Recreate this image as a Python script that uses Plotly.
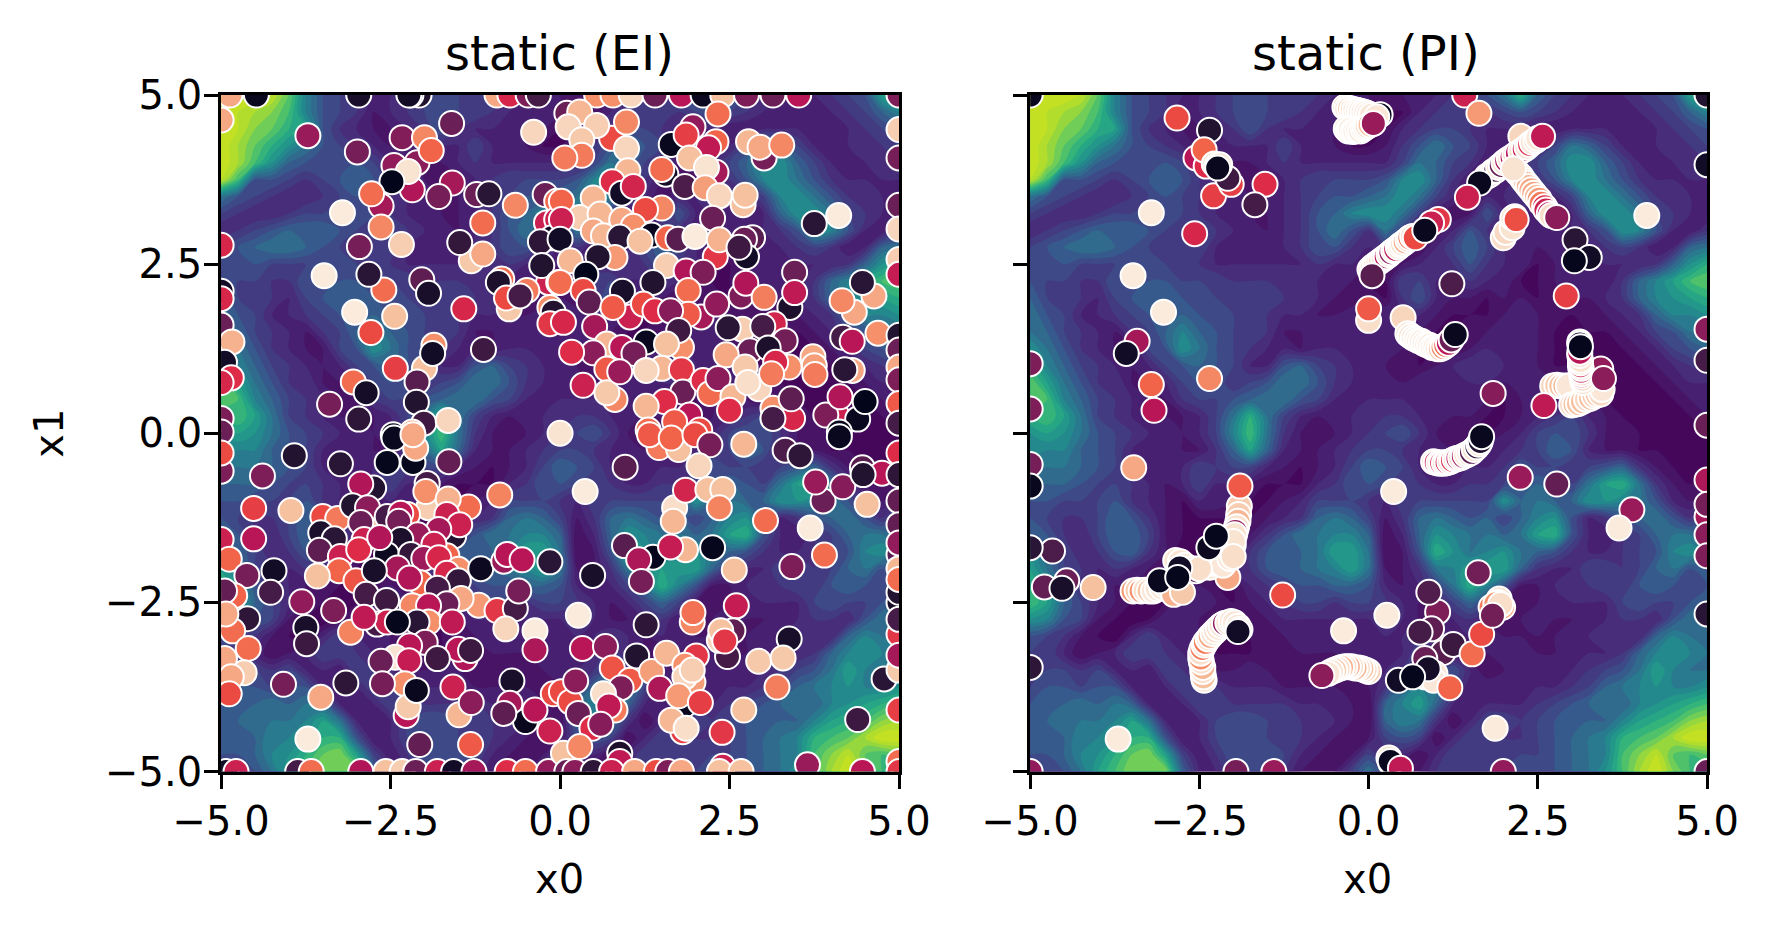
import plotly.graph_objects as go

# grid of the background surface at 0.25 steps (level 0-20)
grid_x = [-5 + 0.25 * i for i in range(41)]
grid_y = [5 - 0.25 * i for i in range(41)]

surface = [
    [18,18,18,17,14,9,6,5,4,3,3,4,5,6,5,5,5,4,3,3,2, 2,2,3,3,4,5,6,8,12,7,5,4,3,3,3,4,5,6,11,14],
    [18,17,16,15,13,9,6,5,4,2,3,4,5,6,5,5,4,3,3,3,2, 1,1,3,4,5,5,4,5,6,5,4,3,3,3,3,3,4,5,7,9],
    [18,17,15,14,12,11,6,4,3,2,2,3,4,6,4,3,3,3,2,2,1, 1,3,4,5,5,4,3,3,3,2,2,3,3,3,3,3,3,4,5,6],
    [18,16,14,12,10,8,6,5,4,3,2,3,3,3,3,5,3,3,2,1,1, 2,4,6,8,6,5,3,2,3,3,5,8,7,5,3,3,3,4,4,5],
    [18,16,13,10,7,6,6,6,6,5,3,3,2,2,3,4,3,3,3,3,3, 3,5,8,7,5,4,2,2,3,5,7,10,10,7,5,3,3,3,4,4],
    [17,13,6,6,5,4,5,6,7,6,4,3,2,2,2,3,4,5,5,5,5, 6,9,10,7,4,2,2,2,4,4,6,9,10,8,6,4,3,3,3,3],
    [8,6,5,4,3,3,4,5,6,5,4,3,3,2,2,3,4,5,6,6,7, 8,10,8,5,3,1,3,3,4,3,3,5,9,10,8,6,4,4,3,3],
    [5,4,3,3,4,5,5,6,6,5,4,3,3,2,2,3,4,6,7,9,10, 10,8,5,2,1,2,6,3,3,3,3,3,7,10,10,8,5,4,3,2],
    [3,4,5,6,7,7,7,6,5,5,5,4,3,3,2,3,4,6,8,6,4, 8,5,2,1,3,6,4,2,3,3,3,3,4,6,10,9,6,3,2,4],
    [5,6,7,8,8,7,6,5,5,5,5,3,3,3,3,3,4,6,6,4,3, 4,2,1,3,5,7,5,3,3,2,3,3,3,4,5,4,2,3,7,8],
    [6,6,6,5,5,5,6,6,5,5,4,3,3,3,3,3,3,4,3,3,2, 2,2,3,4,4,6,4,3,3,1,2,3,3,3,3,3,4,7,10,12],
    [6,5,5,4,4,6,6,6,6,5,5,5,4,4,4,4,4,3,3,2,1, 1,5,5,3,3,4,3,3,1,1,2,3,3,2,4,7,9,11,13,14],
    [7,5,5,4,3,5,6,7,7,6,6,5,5,5,5,4,4,3,2,1,2, 1,4,6,3,2,2,1,2,2,1,2,2,2,3,4,7,9,10,11,12],
    [8,6,5,3,3,4,5,6,7,7,6,6,5,5,4,3,3,2,2,3,3, 3,3,3,2,1,1,1,2,3,2,2,1,2,2,3,4,7,9,9,10],
    [8,7,5,4,3,2,4,5,7,9,7,6,5,5,4,2,2,3,3,3,3, 3,3,2,1,1,2,2,3,3,2,1,1,1,1,2,3,5,6,8,8],
    [10,8,6,4,3,2,2,5,6,10,8,6,5,4,3,3,2,3,3,3,3, 3,2,1,1,1,2,3,3,3,2,1,1,1,1,1,2,3,5,6,7],
    [12,9,7,5,4,3,2,3,5,6,7,6,5,3,3,6,7,5,4,3,3, 2,2,1,2,3,4,4,3,3,2,1,1,1,1,1,1,2,3,4,5],
    [14,11,8,6,4,4,2,2,3,5,6,6,4,5,6,8,8,6,4,3,3, 3,2,3,3,3,3,3,2,3,3,2,2,1,1,1,1,1,2,3,3],
    [14,13,9,7,5,4,3,2,2,4,5,5,6,7,8,8,6,5,3,3,3, 3,3,3,3,3,3,2,1,2,3,2,1,2,1,1,1,1,1,2,3],
    [12,13,11,8,5,4,3,2,2,2,3,5,8,12,8,5,3,2,3,3,4, 4,4,3,3,2,2,1,1,2,3,4,5,3,2,1,1,1,1,1,2],
    [10,11,10,8,6,5,4,3,3,2,3,5,9,13,8,4,2,1,2,3,4, 5,6,4,2,2,1,1,2,3,5,6,6,4,2,2,1,1,1,1,1],
    [10,9,9,7,6,5,3,3,3,2,2,4,7,11,7,3,2,2,3,4,5, 5,4,3,3,2,2,3,3,4,5,7,6,3,2,2,1,1,1,1,1],
    [8,8,8,7,6,5,3,2,3,3,5,4,5,5,3,2,1,2,3,5,7, 6,5,3,3,3,3,3,4,6,5,5,4,5,6,7,4,2,1,1,1],
    [7,7,7,6,5,5,4,3,2,3,5,3,3,2,1,1,1,3,4,6,6, 5,5,4,3,3,4,4,5,6,7,6,5,8,11,12,8,4,2,1,2],
    [6,6,5,5,5,6,4,3,2,1,3,3,2,1,1,2,3,5,5,5,4, 3,5,5,5,5,5,5,10,7,8,7,7,10,10,9,8,6,3,2,4],
    [6,5,4,4,5,7,6,4,2,1,1,1,1,1,2,3,4,7,8,7,5, 2,4,7,8,7,6,7,5,7,9,10,6,3,4,6,7,8,6,4,6],
    [7,6,4,3,5,7,7,5,2,1,1,1,1,2,4,6,8,8,9,9,7, 1,3,7,10,9,8,8,7,8,11,12,6,3,2,4,5,7,8,8,7],
    [10,7,5,3,4,6,7,4,2,0,0,1,2,4,6,7,7,8,11,11,8, 1,2,6,12,10,8,9,10,8,7,6,4,3,3,4,5,6,9,10,8],
    [11,8,5,4,3,4,3,2,1,0,1,1,3,4,6,7,7,8,9,11,8, 2,2,4,8,9,11,11,11,7,4,3,3,5,5,4,5,7,8,6,7],
    [12,10,6,4,3,2,2,1,0,1,2,1,1,3,4,5,6,6,7,7,6, 3,2,3,5,8,12,9,6,2,2,3,4,4,5,4,6,7,6,5,6],
    [13,11,7,5,3,2,1,1,1,3,3,2,1,2,3,4,5,5,4,5,5, 4,3,2,3,5,7,5,2,1,2,3,3,3,3,5,6,5,5,6,7],
    [10,9,6,5,2,1,0,1,3,3,2,2,2,1,2,3,3,3,3,3,3, 4,3,2,2,3,4,2,2,2,3,2,2,3,3,4,4,3,6,8,8],
    [6,5,4,2,1,0,3,5,3,3,2,1,1,1,2,2,3,3,3,3,3, 3,3,4,3,2,3,3,2,2,2,2,3,3,4,3,3,7,9,8,8],
    [5,5,3,1,2,3,5,5,4,3,2,1,1,1,2,2,2,2,2,3,3, 3,3,5,3,2,1,2,3,3,2,2,3,3,3,4,7,9,10,9,8],
    [5,5,5,4,5,3,3,2,5,4,3,2,2,3,2,2,2,2,2,2,3, 3,4,6,5,6,3,1,2,3,3,3,3,4,5,6,8,11,9,8,8],
    [5,6,6,5,6,6,3,2,3,5,4,4,3,3,3,2,2,2,2,2,2, 4,7,9,8,5,2,3,3,3,3,3,4,5,7,8,9,10,9,9,10],
    [6,7,7,8,7,8,7,3,2,3,5,5,4,4,4,4,3,3,3,2,1, 7,9,11,7,3,2,3,3,3,4,5,6,7,8,7,9,10,11,12,13],
    [7,7,8,8,8,9,11,8,3,2,3,5,6,6,5,5,4,4,3,2,1, 7,9,8,4,1,3,5,5,4,5,6,7,7,7,9,11,12,13,15,16],
    [7,7,7,9,9,10,12,12,6,2,3,5,6,6,5,5,4,3,2,1,2, 5,6,5,1,3,5,5,4,4,5,6,7,8,9,12,13,14,16,18,18],
    [6,6,7,9,10,12,14,15,11,5,2,4,6,6,6,5,3,2,1,2,5, 3,3,1,3,5,5,5,5,5,5,6,7,8,9,13,15,17,14,13,14],
    [6,6,6,8,11,13,15,15,15,7,3,3,5,6,6,4,2,1,2,5,8, 5,1,2,4,5,5,5,5,6,6,6,7,8,10,13,16,18,15,13,12],
]

# viridis stops as the levels above were read
surface_scale = [
    [0.0, '#440154'], [0.1, '#481a6c'], [0.2, '#46337e'], [0.3, '#3b528b'], [0.4, '#2c728e'],
    [0.5, '#21908c'], [0.6, '#27ad81'], [0.7, '#5cc863'], [0.8, '#aadc32'], [0.9, '#cde11d'],
    [1.0, '#fde725'],
]

# seaborn rocket, sampled
rocket = [
    [0.0, '#03051a'], [0.1, '#221331'], [0.2, '#451c47'], [0.3, '#6a1f56'],
    [0.4, '#921c5b'], [0.5, '#b91657'], [0.6, '#dd2b48'], [0.65, '#ea4a42'],
    [0.7, '#f1644a'], [0.8, '#f5906a'], [0.9, '#f6c19f'], [1.0, '#faebdd'],
]

# (x0, x1, colour value) for static (EI), by quadrant of the panel
ei_top_left = [
    (-4.87,5,.85),(-5,4.63,.85),(-4.48,5,.02),(-3.72,4.40,.42),(-2.99,4.16,.33),(-2.97,5,.07),
    (-1.60,4.58,.3),(-2.33,4.37,.36),(-2.0,4.37,.78),(-2.45,3.96,.4),(-2.11,4.0,.38),(-2.18,3.6,.48),
    (-1.90,4.18,.7),(-2.24,3.87,.98),(-2.64,3.36,.45),(-2.48,3.72,0),(-2.78,3.54,.72),(-1.59,3.70,.45),
    (-1.79,3.50,.33),(-1.23,3.53,.3),(-1.05,3.54,.12),(-.66,3.37,.78),(-1.14,3.11,.72),(-3.21,3.26,1),
    (-2.64,3.05,.78),(-2.96,2.76,.33),(-2.34,2.79,.93),(-1.31,2.55,.92),(-1.48,2.82,.15),(-1.14,2.65,.85),
    (-3.48,2.33,1),(-2.6,2.12,.72),(-2.82,2.35,.12),(-2.04,2.27,.27),(-1.94,2.07,.07),(-1.42,1.84,.58),
    (-3.03,1.79,1),(-2.44,1.73,.9),(-2.79,1.49,.65),(-1.13,1.24,.18),(-1.86,1.30,.8),(-2.0,.96,.9),
    (-1.88,1.18,.05),(-2.43,.96,.63),(-3.05,.76,.72),(-2.86,.60,.06),(-2.11,.76,.25),(-3.4,.43,.33),
    (-2.12,.46,.1),(-2.97,.21,.13),(-2.01,.15,.18),(-1.65,.19,.95),(-2.46,-.02,.02),(-2.18,.02,.85),
    (-5,2.78,.58),(-5,2.1,.05),(-5,1.99,.58),(-5,1.6,.3),(-4.84,1.35,.87),(-4.95,1.05,.05),(-4.85,.82,.6),
    (-5,.75,.58),(-5,.22,.35),(-5,.02,.3),(-2.08,5,.1),(-2.2,5,.1),(-2.23,5,.05),(-.93,5,.85),(-.74,5,.58),
    (-.47,5,.35),(-.32,5,.2),(-.39,4.45,.95),(-.22,3.53,.3),(-.05,3.43,.72),(-.2,3.11,.55),(-.05,3.16,.55),
    (-.12,2.89,.05),(-.29,2.83,.13),(-.17,2.23,.55),(-.27,2.48,.1),(-.02,2.23,.72),(-.86,2.28,.72),
    (-.91,2.23,.08),(-.49,2.11,.75),(-.75,1.84,.92),(-.79,2.0,.65),(-.59,2.03,.2),(-.15,1.86,.8),
    (-.1,1.79,.1),(-.15,1.62,.62),
]
ei_top_right = [
    (.54,5,.8),(.78,5,.8),(1.05,5,.95),(1.4,5,.3),(1.79,5,.5),(2.11,5,.03),(2.4,5,.9),(2.75,5,.35),
    (3.14,5,.3),(3.52,5,.5),(5,5,.35),(.1,4.73,.3),(.29,4.75,.88),(.12,4.53,.95),(.76,4.36,.65),
    (.54,4.55,.93),(.98,4.6,.78),(2.33,4.72,.72),(1.96,4.53,.4),(1.64,4.27,.02),(1.86,4.41,.63),
    (2.3,4.31,.7),(2.19,4.22,.52),(.32,4.34,.92),(.98,4.21,.95),(.32,4.11,.75),(.07,4.07,.75),
    (1.91,4.07,.9),(3.01,4.07,.33),(2.78,4.31,.88),(2.95,4.23,.85),(3.27,4.26,.78),(5,4.49,.93),
    (5,4.07,.33),(2.3,3.86,.45),(2.16,3.93,.98),(1.56,3.83,.06),(1.5,3.9,.72),(1.0,3.88,.88),
    (.77,3.72,.6),(.91,3.55,.05),(1.08,3.65,.57),(1.84,3.65,.22),(2.14,3.63,.83),(2.7,3.38,.9),
    (2.35,3.51,.95),(2.73,3.52,.9),(.49,3.48,.88),(.02,3.43,.7),(1.5,3.33,.78),(1.26,3.31,.65),
    (.29,3.19,.93),(.02,3.16,.55),(.59,3.24,.88),(.91,3.16,.85),(1.08,3.06,.8),(2.25,3.18,.3),
    (3.75,3.1,.12),(4.11,3.22,1),(5,3.37,.3),(5,3.02,.95),(.49,2.99,.85),(.64,2.92,.88),(1.35,2.93,.02),
    (.88,2.9,.12),(1.18,2.84,.9),(1.59,2.89,.7),(1.74,2.87,.25),(1.99,2.91,1),(2.29,2.61,.62),
    (2.35,2.86,.87),(2.84,2.89,.25),(2.72,2.87,.3),(2.75,2.61,.05),(2.64,2.75,.18),(0,2.87,.05),
    (.81,2.6,.82),(.15,2.55,.88),(.56,2.61,.1),(1.57,2.48,.93),(1.86,2.4,.48),(2.11,2.38,.35),
    (.38,2.35,0),(0,2.23,.72),(5,2.57,.93),(3.46,2.38,.3),(5,2.35,.53),(4.63,2.03,.85),(4.46,2.23,.12),
    (4.34,1.79,.85),(4.16,1.96,.78),(3.39,1.86,.08),(3.46,2.08,.52),(2.67,2.03,.35),(2.74,2.22,.48),
    (3.01,2.01,.76),(1.89,2.11,.72),(1.37,2.23,.1),(.92,2.1,.07),(.34,2.11,.65),(.43,1.94,.27),
    (1.03,1.72,.55),(.78,1.86,.68),(1.23,1.91,.65),(1.4,1.81,.6),(2.08,1.72,.45),(1.89,1.76,.68),
    (1.63,1.81,.37),(2.31,1.91,.4),(3.16,1.62,.57),(2.69,1.54,.93),(2.48,1.56,.12),(2.99,1.58,.2),
    (.05,1.64,.58),(.51,1.58,.45),(1.27,1.35,.02),(1.79,1.27,.8),(1.75,1.52,.18),(.69,1.32,.88),
    (1.57,1.32,.9),(.91,1.27,.5),(1.09,1.18,.33),(.49,1.19,.38),(.17,1.2,.6),(3.32,1.37,.32),
    (2.8,1.22,.3),(2.45,1.16,.85),(3.07,1.26,.08),(3.38,.98,.8),(3.18,1.05,.58),(3.73,1.13,.85),
    (3.75,1.0,.83),(3.76,.87,.75),(4.17,1.42,.2),(4.31,1.36,.5),(4.69,1.48,.8),(5,1.45,.1),(5,1.23,.3),
    (5,.98,.85),(5,.79,.35),(.69,.95,.68),(.34,.71,.55),(.81,.5,.78),(.69,.6,.92),(.88,.91,.42),
    (1.5,.96,.88),(1.27,.93,.95),(1.79,.94,.62),(1.81,.61,.3),(2.11,.78,.6),(2.21,.59,.72),(2.33,.81,.38),
    (2.55,.54,.88),(2.93,.66,.95),(2.73,.98,.92),(3.12,.88,.75),(2.77,.75,.97),(1.54,.47,.6),(1.27,.4,.88),
    (2.5,.34,.6),(3.14,.37,.8),(3.43,.22,.58),(3.14,.22,.2),(3.41,.51,.27),(4.31,.93,.85),(4.2,.94,.12),
    (4.07,.29,.55),(3.92,.27,.35),(4.13,.54,.48),(4.39,.21,.02),(4.5,.47,0),(4.12,.02,.02),(5,.44,.68),
    (5,.15,.2),(1.91,.27,.5),(1.69,.17,.68),(1.3,.05,.72),(2.06,.05,.65),
]
ei_bottom_left = [
    (-3.92,-.33,.1),(-3.24,-.45,.12),(-2.55,-.43,.01),(-2.17,-.43,.01),(-1.64,-.42,.28),(-2.13,-.22,.85),
    (-2.45,-.07,.02),(-2.17,-.02,.85),(-4.39,-.63,.35),(-5,-.56,.35),(-5,-.29,.65),(-2.75,-.81,.1),
    (-2.94,-.75,.48),(-4.52,-1.11,.63),(-3.97,-1.14,.9),(-.89,-.91,.77),(-1.96,-.74,.2),(-1.94,-1.1,.93),
    (-1.35,-1.09,.72),(-1.98,-.86,.8),(-1.65,-.97,.87),(-3.5,-1.23,.65),(-3.28,-1.26,.75),(-3.06,-1.07,.1),
    (-2.84,-1.27,.88),(-2.84,-1.1,.38),(-3.53,-1.47,.08),(-3.33,-1.56,.12),(-4.52,-1.56,.5),(-5,-1.57,.55),
    (-3.55,-1.73,.27),(-3.24,-1.82,.55),(-4.88,-1.86,.7),(-4.22,-2.03,.05),(-4.62,-2.1,.33),(-4.27,-2.35,.2),
    (-3.26,-2.03,.7),(-3.58,-2.11,.9),(-4.8,-2.4,.7),(-4.95,-2.33,.28),(-3.81,-2.49,.4),(-3.34,-2.62,.35),
    (-3.75,-2.87,.07),(-3.74,-3.11,.17),(-3.09,-2.94,.77),(-4.61,-2.74,.13),(-4.83,-2.92,.72),(-4.6,-3.18,.72),
    (-4.93,-2.67,.85),(-4.66,-3.54,.93),(-4.95,-3.33,.85),(-4.85,-3.6,.85),(-4.88,-3.85,.65),(-4.08,-3.71,.33),
    (-3.53,-3.9,.85),(-3.16,-3.69,.13),(-3.72,-4.52,1),
    (-2.94,-1.32,.3),(-2.55,-1.23,.2),(-2.25,-1.2,.65),(-2.35,-1.18,.5),(-2.38,-1.3,.33),(-1.57,-1.52,.1),
    (-1.67,-1.2,.55),(-1.48,-1.35,.55),(-1.79,-1.42,.45),(-2.1,-1.5,.42),(-1.67,-1.81,.7),(-1.86,-1.64,.55),
    (-2.89,-1.57,.55),(-2.97,-1.72,.6),(-2.35,-1.57,.08),(-2.56,-1.79,.03),(-2.66,-1.54,.48),(-2.2,-1.79,.15),
    (-2.01,-1.85,.43),(-1.79,-1.84,.58),(-3.01,-2.18,.67),(-2.4,-1.99,.45),(-2.74,-2.03,.07),(-2.06,-2.21,.7),
    (-2.22,-2.14,.48),(-1.5,-2.01,.8),(-1.67,-2.07,.58),(-1.5,-2.18,.15),(-1.81,-2.29,.2),(-1.2,-2.54,.82),
    (-1.46,-2.44,.85),(-.93,-2.62,.62),(-.66,-2.59,.2),(-1.67,-2.52,.3),(-1.17,-2.0,.03),(-.83,-1.89,.42),
    (-.78,-1.79,.5),(-.56,-1.87,.5),(-.15,-1.9,.12),(-.61,-2.33,.33),(-2.18,-2.55,.78),(-2.86,-2.38,.2),
    (-2.56,-2.47,.18),(-1.94,-2.55,.5),(-2.7,-2.82,.2),(-2.55,-2.79,.55),(-2.89,-2.72,.52),(-1.94,-2.79,.8),
    (-2.11,-2.79,.12),(-2.4,-2.79,.01),(-1.59,-2.79,.52),(-1.99,-3.09,.35),(-2.22,-3.14,.5),(-2.43,-3.31,.98),
    (-2.23,-3.36,.53),(-2.64,-3.37,.3),(-1.4,-3.33,.48),(-1.5,-3.19,.5),(-1.81,-3.33,.18),(-1.32,-3.21,.17),
    (-.37,-2.92,1),(-.8,-2.89,.95),(-.37,-3.2,.47),(-2.29,-3.7,.8),(-2.62,-3.7,.33),(-2.27,-4.17,.5),
    (-2.24,-4.04,.92),(-2.12,-3.8,.02),(-1.49,-4.16,.88),(-1.58,-3.75,.55),(-1.31,-3.98,.38),(-.71,-3.66,.07),
    (-.74,-3.99,.45),(-.51,-4.26,.02),(-.83,-4.14,.27),(-.37,-4.09,.5),(-.1,-3.85,.65),(-.15,-4.4,.55),
    (-2.07,-4.6,.28),(-1.32,-4.6,.68),(-4.93,-5,.05),(-4.78,-5,.55),(-3.87,-5,.2),(-3.67,-5,.72),(-2.94,-5,.48),
    (-2.57,-5,.9),(-2.33,-5,.93),(-2.13,-5,.3),(-1.81,-5,.55),(-1.57,-5,.05),(-1.27,-5,.45),(-.78,-5,.6),
    (-.51,-5,.72),(-.17,-5,.4),
]
ei_bottom_right = [
    (0,0,.98),(1.46,-.21,.75),(1.32,-.02,.68),(1.75,-.24,.9),(1.64,-.07,.7),(1.99,-.02,.65),(2.21,-.17,.33),
    (2.71,-.16,.88),(2.05,-.48,.95),(.96,-.5,.25),(3.32,-.25,.22),(3.54,-.33,.13),(4.12,-.05,.02),
    (3.88,-1.0,.3),(3.77,-.72,.42),(4.17,-.79,.37),(4.46,-.51,.25),(4.75,-.59,.5),(4.47,-.61,.1),(5,-.29,.6),
    (5,-.61,.13),(4.53,-1.05,.9),(5,-1.0,.28),(5,-1.35,.28),(5,-1.79,.25),(5,-1.62,.4),(.37,-.86,1),
    (1.69,-1.1,.97),(1.67,-1.3,.88),(1.85,-.84,.57),(2.18,-.83,.9),(2.4,-.83,.9),(2.35,-1.1,.77),(3.03,-1.29,.72),
    (3.69,-1.4,1),(.95,-1.66,.25),(1.37,-1.83,.01),(1.85,-1.72,.88),(1.16,-1.87,.47),(1.63,-1.68,.53),
    (2.25,-1.69,.01),(1.2,-2.19,.33),(2.57,-2.02,.9),(3.42,-1.97,.35),(3.9,-1.8,.72),(.48,-2.1,.07),
    (.27,-2.69,1),(1.27,-2.83,.13),(1.95,-2.79,.78),(1.96,-2.65,.73),(2.6,-2.55,.53),(2.55,-2.92,.27),
    (2.47,-3.3,.2),(2.35,-3.06,.95),(2.37,-2.92,.9),(2.43,-3.07,.62),(3.38,-3.04,.07),(2.93,-3.37,.92),
    (3.29,-3.32,.92),(.33,-3.18,.5),(.67,-3.15,.38),(.77,-3.47,.67),(1.03,-3.65,.68),(1.13,-3.29,.1),
    (1.35,-3.52,.83),(1.57,-3.25,.88),(2.01,-3.29,.62),(1.84,-3.43,.8),(1.96,-3.68,.83),(1.84,-3.6,.95),
    (1.95,-3.5,.93),(3.2,-3.75,.76),(.02,-3.82,.65),(.15,-3.97,.65),(.23,-3.66,.38),(.9,-3.76,.35),(1.47,-3.77,.47),
    (.64,-3.85,.97),(1.83,-4.02,.02),(1.75,-3.88,.82),(2.07,-3.98,.63),(.81,-4.09,.75),(.72,-4.03,.52),
    (.27,-4.14,.3),(.47,-4.36,.6),(.6,-4.3,.37),(2.71,-4.09,.9),(1.81,-4.41,.63),(1.64,-4.24,.88),(1.86,-4.36,.97),
    (2.39,-4.42,.62),(4.39,-4.23,.17),(.05,-4.73,.9),(.29,-4.63,.78),(.88,-4.73,.08),(5,-4.09,.63),(4.78,-3.63,.12),
    (5,-3.5,.92),(5,-2.5,.07),(5,-2.35,.1),(5,-2.97,.62),(5,-3.28,.45),(5,-2.0,.88),(5,-2.16,.72),(5,-2.75,.2),
    (.1,-5,.3),(.22,-5,.38),(.49,-5,.13),(.88,-4.85,.52),(.76,-5,.55),(1.1,-5,.85),(1.42,-5,.65),(1.59,-5,.35),
    (1.79,-5,.85),(2.4,-4.92,.55),(2.35,-5,.9),(2.67,-5,.9),(3.65,-4.9,.42),(4.46,-5,.5),(5,-4.85,.72),(5,-5,.62),
]

# (x0, x1, colour value) for static (PI): single picks first, then the dense runs of points
pi_single = [
    (-2.83,4.66,.65),(-2.35,4.48,.1),(-2.55,4.07,.5),(-2.4,3.95,.6),(-2.43,4.19,.7),(-2.29,3.51,.63),
    (-2.03,3.68,.63),(-2.08,3.77,.18),(-1.53,3.68,.6),(-1.68,3.38,.2),(-2.28,3.98,.99),(-2.24,3.95,.98),
    (-2.2,3.97,.99),(-2.23,3.92,.02),(-3.21,3.26,1),(-2.57,2.95,.58),(-3.48,2.33,1),(-3.03,1.79,1),
    (-3.42,1.36,.45),(-3.58,1.18,.05),(-3.21,.72,.7),(-3.17,.34,.5),(-2.35,.81,.78),(-5,1.03,.35),(-5,.36,.35),
    (-5,5,.02),(1.42,5,.55),(1.63,4.73,.82),(5,3.97,.05),(5,5,.1),(5,1.54,.38),(5,1.08,.2),(5,.12,.3),
    (3.05,2.86,.12),(3.26,2.6,.05),(3.04,2.55,.01),(1.23,2.21,.22),(2.92,2.03,.63),(4.11,3.22,1),
    (0,1.67,.97),(0,1.84,.68),(.51,1.71,.95),(1.84,.59,.37),(2.24,-.65,.42),(2.78,-.75,.28),(.37,-.86,1),
    (3.89,-1.13,.42),(3.7,-1.4,1),(1.62,-2.06,.32),(5,-.69,.47),(5,-1.23,.45),(5,-1.05,.33),(5,-1.5,.38),
    (5,-1.81,.35),(5,-2.67,.12),(5,-5,.3),(1.99,-5,.4),(1.02,-2.64,.35),(.89,-2.35,.23),(.27,-2.69,1),
    (.93,-2.89,.27),(.76,-2.94,.2),(1.1,-3.24,.25),(1.25,-3.12,.17),(.83,-3.33,.3),(.98,-3.55,.99),(.83,-3.6,.99),
    (.96,-3.65,.99),(.88,-3.48,.06),(.44,-3.65,.05),(.65,-3.6,.01),(1.53,-3.26,.72),(1.67,-2.97,.65),(1.2,-3.76,.7),
    (1.93,-2.45,.98),(1.91,-2.5,.97),(1.98,-2.57,.85),(1.81,-2.57,.75),(1.88,-2.52,.8),(1.95,-2.53,.97),
    (1.83,-2.69,.32),(1.87,-4.36,1),(.3,-4.8,.99),(.33,-4.88,.99),(.32,-4.85,.02),(.47,-4.95,.52),
    (-3.47,-.51,.85),(-5,-.46,.33),(-5,-.78,.02),(-1.27,-2.39,.65),(-.37,-2.92,1),(-4.67,-1.74,.22),
    (-5,-1.69,.12),(-4.79,-2.27,.28),(-4.46,-2.18,.3),(-4.53,-2.29,.07),(-4.07,-2.28,.9),(-5,-3.46,.13),
    (-3.7,-4.52,1),(-5,-5,.4),(-1.96,-5,.33),(-1.4,-5,.42),
]
pi_top_stack = [
    (-.35,4.82,.93),(-.32,4.8,.95),(-.28,4.8,.9),(-.24,4.79,.97),(-.2,4.78,.98),(-.16,4.77,.99),(-.12,4.76,.99),
    (-.08,4.75,.99),(-.04,4.74,.99),(0,4.72,.99),(.04,4.7,.99),(-.33,4.5,1),(-.3,4.47,1),(-.27,4.49,1),
    (-.23,4.46,1),(-.2,4.47,.99),(-.16,4.48,1),(-.12,4.47,.99),(-.08,4.5,.99),(-.05,4.52,.98),(-.02,4.54,.96),
    (.02,4.56,.9),(.17,4.71,.02),(.12,4.68,.99),(.07,4.58,.42),
]
pi_long_low = [
    (.02,2.42,.98),(.06,2.46,.98),(.1,2.49,.97),(.14,2.52,.95),(.18,2.55,.9),(.22,2.58,.98),(.26,2.61,.5),
    (.3,2.64,.98),(.33,2.67,.4),(.37,2.7,.97),(.4,2.72,.5),(.44,2.75,.98),(.47,2.78,.95),(.5,2.8,.98),
    (.54,2.83,.85),(.58,2.86,.97),(.61,2.89,.75),(.65,2.91,.97),(.05,2.33,.25),(1.03,3.16,.62),(.93,3.11,.55),
    (.69,2.89,.65),(.83,3.0,.02),
]
pi_long_high = [
    (1.75,3.8,.97),(1.8,3.83,.3),(1.84,3.87,.97),(1.88,3.89,.2),(1.92,3.93,.98),(1.96,3.96,.3),(2.0,4.0,.97),
    (2.04,4.03,.45),(2.08,4.06,.97),(2.12,4.08,.5),(2.16,4.11,.95),(2.2,4.14,.5),(2.25,4.39,.95),(2.25,4.17,.97),
    (2.3,4.2,.55),(2.34,4.23,.98),(2.38,4.27,.6),(2.42,4.3,.98),(2.47,4.33,.97),(2.5,4.36,.99),(2.57,4.39,.52),
    (1.64,3.7,.02),(1.46,3.49,.55),
]
pi_branch = [
    (2.2,3.85,.97),(2.25,3.8,.93),(2.28,3.75,.92),(2.32,3.7,.9),(2.36,3.65,.88),(2.4,3.6,.85),(2.44,3.55,.85),
    (2.48,3.5,.88),(2.52,3.46,.82),(2.55,3.4,.75),(2.6,3.35,.6),(2.62,3.3,.55),(2.67,3.25,.5),(2.7,3.22,.97),
    (2.78,3.19,.38),(2.14,3.91,.98),(1.99,2.89,.97),(2.03,2.97,.96),(2.12,3.04,.98),(2.16,3.2,.99),(2.13,3.18,.99),
    (2.18,3.16,.66),
]
pi_band = [
    (.58,1.47,.99),(.62,1.44,.99),(.66,1.41,.99),(.7,1.39,1),(.74,1.37,1),(.78,1.36,1),(.82,1.33,1),(.86,1.31,1),
    (.9,1.3,1),(.94,1.27,1),(.98,1.27,1),(1.02,1.25,.98),(1.06,1.25,.9),(1.1,1.27,.8),(1.14,1.3,.7),(1.18,1.33,.5),
    (1.22,1.38,.3),(1.28,1.46,.02),
]
pi_right_cluster = [
    (2.72,.7,.95),(2.78,.71,.93),(2.84,.7,.9),(2.9,.7,.88),(2.95,.7,.99),(3.0,.42,.95),(3.05,.43,.9),(3.1,.44,.92),
    (3.16,.47,.9),(3.22,.5,.95),(3.28,.52,.9),(3.33,.55,.93),(3.38,.57,.9),(3.43,.58,.96),(3.45,.65,.99),
    (3.43,.95,.4),(3.17,.75,.99),(3.16,.8,.97),(3.15,.85,.55),(3.15,.88,.97),(3.14,.92,.5),(3.14,.96,.98),
    (3.13,1.0,.55),(3.13,1.04,.98),(3.13,1.08,.98),(3.12,1.15,.99),(3.12,1.2,.5),(3.12,1.35,.99),(3.12,1.32,.1),
    (3.13,1.28,.01),(3.47,.81,.38),(2.59,.41,.52),
]
pi_arc = [
    (.96,-.42,.98),(1.0,-.43,.55),(1.04,-.44,.97),(1.08,-.44,.55),(1.12,-.44,.98),(1.16,-.43,.55),(1.2,-.42,.97),
    (1.24,-.4,.6),(1.28,-.38,.98),(1.32,-.37,.5),(1.36,-.36,.97),(1.4,-.34,.45),(1.44,-.32,.97),(1.48,-.3,.98),
    (1.52,-.28,.25),(1.56,-.24,.98),(1.6,-.2,.15),(1.63,-.16,.98),(1.65,-.12,.1),(1.67,-.05,.02),
]
pi_lower_band = [
    (0,-3.52,.93),(-.05,-3.5,.97),(-.1,-3.48,.9),(-.15,-3.47,.97),(-.2,-3.47,.88),(-.25,-3.45,.97),(-.3,-3.45,.85),
    (-.35,-3.45,.97),(-.4,-3.46,.87),(-.45,-3.48,.97),(-.5,-3.5,.93),(-.55,-3.52,.98),(-.6,-3.55,.99),(-.69,-3.58,.38),
]
pi_hook = [
    (-2.43,-3.65,.99),(-2.44,-3.6,.9),(-2.45,-3.52,.97),(-2.45,-3.46,.88),(-2.47,-3.38,.97),(-2.48,-3.32,.8),
    (-2.48,-3.25,.97),(-2.46,-3.18,.76),(-2.43,-3.13,.97),(-2.41,-3.09,.75),(-2.37,-3.04,.98),(-2.34,-3.0,.85),
    (-2.3,-2.96,.98),(-2.26,-2.92,.97),(-2.22,-2.88,.98),(-2.18,-2.84,.99),(-2.13,-2.81,.4),(-2.08,-2.8,.98),
    (-2.03,-2.78,.99),(-1.98,-2.8,.99),(-1.93,-2.85,.99),(-1.9,-2.9,.99),(-1.93,-2.93,.05),
]
pi_cross = [
    (-2.08,-2.13,.85),(-3.48,-2.33,.82),(-3.42,-2.32,.93),(-3.36,-2.33,.8),(-3.3,-2.32,.97),(-3.24,-2.33,.9),
    (-3.18,-2.33,.99),(-3.12,-2.3,.98),(-3.06,-2.28,.99),(-3.0,-2.25,.99),(-2.88,-2.38,.87),(-2.75,-2.35,.92),
    (-3.09,-2.18,.02),(-2.35,-1.98,.99),(-2.3,-1.92,.98),(-2.25,-1.85,.99),(-2.2,-1.92,.99),(-2.15,-1.95,.99),
    (-2.05,-1.85,.99),(-2.03,-1.75,.98),(-2.0,-1.65,.99),(-2.85,-1.88,.99),(-2.78,-1.9,.98),(-2.72,-1.95,.99),
    (-2.65,-2.02,.5),(-2.6,-2.0,.97),(-2.55,-2.03,.3),(-2.5,-2.0,.97),(-2.79,-1.99,.05),(-2.82,-2.13,.01),
    (-1.91,-1.08,.93),(-1.92,-1.2,.93),(-1.93,-1.3,.88),(-1.95,-1.38,.98),(-1.97,-1.45,.4),(-1.98,-1.5,.98),
    (-2.0,-1.6,.98),(-1.9,-.78,.68),(-2.36,-1.69,.03),(-2.25,-1.52,.01),(-2.0,-1.82,.97),
]

ei_points = ei_top_left + ei_top_right + ei_bottom_left + ei_bottom_right
pi_points = (pi_single + pi_top_stack + pi_long_low + pi_long_high + pi_branch + pi_band
             + pi_right_cluster + pi_arc + pi_lower_band + pi_hook + pi_cross)

ticks = [-5, -2.5, 0, 2.5, 5]
FONT = 'DejaVu Sans'


def surface_trace(xaxis, yaxis):
    return go.Contour(
        x=grid_x, y=grid_y, z=surface, xaxis=xaxis, yaxis=yaxis,
        colorscale=surface_scale, zmin=0, zmax=20, showscale=False,
        contours=dict(coloring='fill', start=0, end=20, size=1),
        line=dict(width=0, smoothing=1),
    )


def scatter_trace(points, xaxis, yaxis):
    return go.Scatter(
        x=[p[0] for p in points], y=[p[1] for p in points], xaxis=xaxis, yaxis=yaxis,
        mode='markers', showlegend=False,
        marker=dict(size=25, color=[p[2] for p in points], colorscale=rocket, cmin=0, cmax=1,
                    line=dict(color='white', width=2)),
    )


def label(text, x, y, size, angle=0):
    return dict(text=text, x=x, y=y, xref='paper', yref='paper', showarrow=False, textangle=angle,
                xanchor='center', yanchor='middle', font=dict(family=FONT, size=size, color='black'))


fig = go.Figure([
    surface_trace('x', 'y'), scatter_trace(ei_points, 'x', 'y'),
    surface_trace('x2', 'y2'), scatter_trace(pi_points, 'x2', 'y2'),
])

axis_style = dict(
    range=[-5, 5], tickvals=ticks, tickformat='.1f', ticks='outside', ticklen=14, tickwidth=3,
    tickcolor='black', showline=True, mirror=True, linecolor='black', linewidth=3, automargin=False,
    showgrid=False, zeroline=False, tickfont=dict(family=FONT, size=40, color='black'),
)

fig.update_layout(
    width=1770, height=932, autosize=False, showlegend=False,
    margin=dict(l=0, r=0, t=0, b=0), paper_bgcolor='white', plot_bgcolor='white',
    xaxis=dict(axis_style, domain=[0.1204, 0.5034], anchor='y', ticklabelstandoff=-2),
    yaxis=dict(axis_style, domain=[0.1807, 0.9066], anchor='x', ticklabelstandoff=-6),
    xaxis2=dict(axis_style, domain=[0.5775, 0.9599], anchor='y2', ticklabelstandoff=-2),
    yaxis2=dict(axis_style, domain=[0.1807, 0.9066], anchor='x2', showticklabels=False),
    annotations=[
        label('static (EI)', 0.3113, 0.9513, 48), label('static (PI)', 0.7675, 0.9513, 48),
        label('x0', 0.3113, 0.0652, 40), label('x0', 0.7681, 0.0652, 40),
        label('x1', 0.023, 0.5439, 40, angle=-90),
    ],
)

fig.write_html("out.html")
